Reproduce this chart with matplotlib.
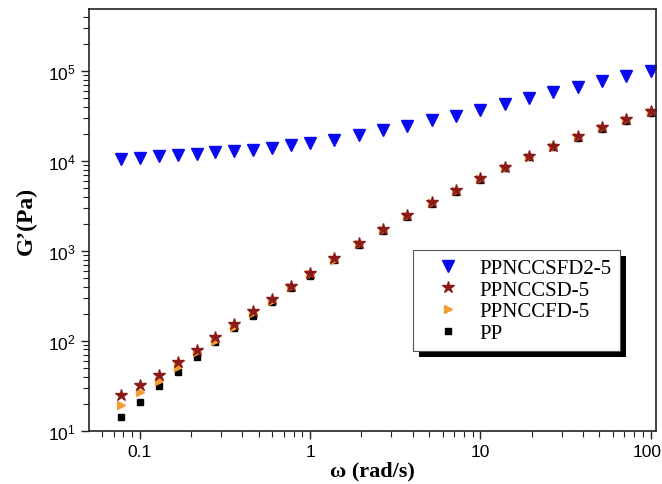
from matplotlib import pyplot as plt
from matplotlib.patches import Rectangle
import matplotlib.transforms as mtransforms
import numpy as np

plt.rcParams['font.family'] = 'Liberation Sans'
plt.rcParams['mathtext.default'] = 'regular'

# angular frequency (rad/s)
omega = [0.0774, 0.1, 0.129, 0.167, 0.215, 0.278, 0.359, 0.464, 0.599, 0.774, 1.0,
         1.39, 1.93, 2.68, 3.73, 5.18, 7.20, 10.0, 13.9, 19.3, 26.8, 37.3, 51.8, 72.0, 100.0]

# storage modulus G' (Pa)
g_csfd = [10450, 10700, 11200, 11480, 11960, 12400, 12700, 13250, 13830, 14930, 15730,
          17100, 19320, 21930, 24480, 28300, 31620, 36870, 42660, 49320, 57540,
          66400, 76260, 87960, 100000]
g_csd = [25.1, 32.2, 41.9, 57.5, 79.4, 110.8, 154.5, 213.6, 290.6, 408, 561,
         824, 1208, 1741, 2493, 3451, 4764, 6473, 8577, 11370, 14690, 18670,
         23500, 29040, 35400]
g_cfd = [19.3, 27.1, 35.9, 50.6, 75.5, 100, 140.9, 203, 280, 396, 545,
         800, 1175, 1695, 2430, 3370, 4650, 6320, 8380, 11100, 14350, 18250,
         23000, 28400, 34700]
g_pp = [14.1, 20.9, 31.6, 45.3, 66.4, 96, 137, 190, 272, 385, 530,
        780, 1150, 1660, 2380, 3300, 4560, 6200, 8220, 10900, 14100, 17950,
        22600, 27900, 34100]

fig = plt.figure(figsize=(6.62, 4.85), dpi=100)
ax = fig.add_axes([0.1344, 0.1099, 0.8566, 0.8691])

ax.plot(omega, g_pp, ls='none', marker='s', ms=4.5, color='black', label='PP')
ax.plot(omega, g_cfd, ls='none', marker='>', ms=5.5, color='#f39c33', label='PPNCCFD-5')
ax.plot(omega, g_csd, ls='none', marker='*', ms=9, color='#8b1a1a', label='PPNCCSD-5')
ax.plot(omega, g_csfd, ls='none', marker='v', ms=8.5, color='#0a0aee', label='PPNCCSFD2-5')

ax.set_xscale('log')
ax.set_yscale('log')
ax.set_xlim(0.0502, 107.7)
ax.set_ylim(10, 4.85e5)
ax.set_xticks([0.1, 1, 10, 100])
ax.set_xticklabels(['0.1', '1', '10', '100'])

ax.tick_params(which='both', direction='out', top=False, right=False, labelsize=12.5, color='#222222')
ax.tick_params(which='major', length=6, width=1)
ax.tick_params(which='minor', length=4, width=0.8)
for s in ax.spines.values():
    s.set_linewidth(1.2)
    s.set_color('#222222')

# keep the last x tick label inside the figure
lab = ax.get_xticklabels()[-1]
lab.set_transform(lab.get_transform() + mtransforms.ScaledTranslation(-3 / 100, 0, fig.dpi_scale_trans))

ax.set_xlabel('ω (rad/s)', family='Liberation Serif', fontweight='bold', fontsize=16, labelpad=1)
ax.set_ylabel('G’(Pa)', family='Liberation Serif', fontweight='bold', fontsize=17, labelpad=8)

h, l = ax.get_legend_handles_labels()
leg = ax.legend(h[::-1], l[::-1], loc='upper left', bbox_to_anchor=(0.571, 0.4285),
                borderaxespad=0, prop={'family': 'Liberation Serif', 'size': 15},
                frameon=True, fancybox=False, edgecolor='#555555', framealpha=1,
                labelspacing=0.1, borderpad=0.4, handlelength=2.6, handletextpad=0.2)
leg.get_frame().set_linewidth(0.8)
leg.set_zorder(5)

# black drop shadow behind the legend box
fig.canvas.draw()
bb = leg.get_window_extent().transformed(fig.transFigure.inverted())
dx, dy = 6 / 662, 6 / 485
shadow = Rectangle((bb.x0 + dx, bb.y0 - dy), bb.width, bb.height, transform=fig.transFigure,
                   facecolor='black', edgecolor='none', zorder=4)
ax.add_artist(shadow)
shadow.set_clip_on(False)

plt.savefig('out.png', dpi=100)
